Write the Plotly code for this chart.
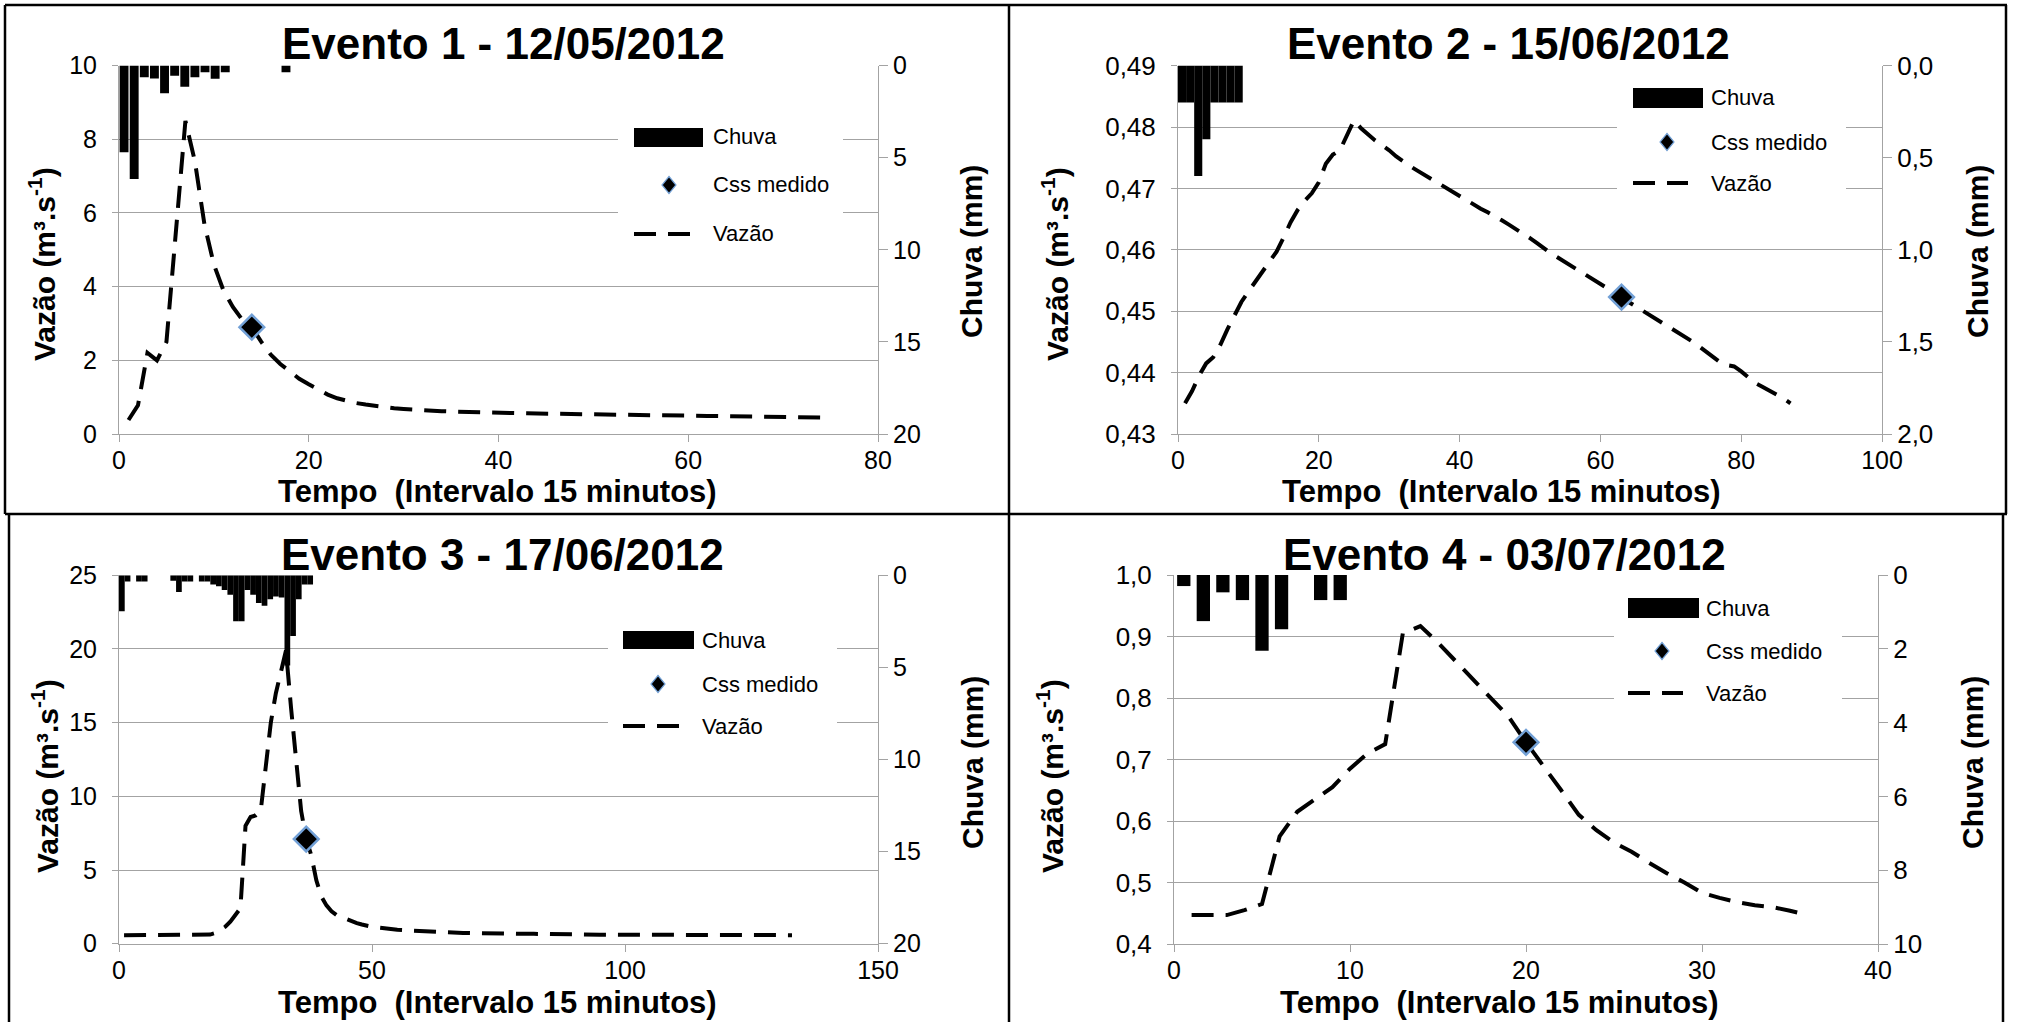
import plotly.graph_objects as go

# ---------------- data ----------------
titulos = ["Evento 1 - 12/05/2012", "Evento 2 - 15/06/2012",
           "Evento 3 - 17/06/2012", "Evento 4 - 03/07/2012"]

# Vazão (m3/s) per 15-minute interval
vazao_1 = [0.38, 0.78, 2.2, 2.0, 2.5, 5.5, 8.5, 7.4, 5.7, 4.6,
           3.9, 3.45, 3.1, 2.9, 2.5, 2.15, 1.9, 1.7, 1.5, 1.35,
           1.2, 1.07, 0.97, 0.9, 0.84, 0.8, 0.76, 0.73, 0.7, 0.68,
           0.66, 0.64, 0.63, 0.62, 0.61, 0.60, 0.59, 0.585, 0.58, 0.575,
           0.57, 0.565, 0.56, 0.555, 0.55, 0.545, 0.54, 0.535, 0.53, 0.53,
           0.525, 0.525, 0.52, 0.52, 0.515, 0.51, 0.51, 0.505, 0.50, 0.50,
           0.495, 0.49, 0.49, 0.485, 0.485, 0.48, 0.48, 0.475, 0.47, 0.465,
           0.46, 0.455, 0.45, 0.445, 0.44]
vazao_2 = [0.4350, 0.4370, 0.4395, 0.4415, 0.4425, 0.4445, 0.4470, 0.4492, 0.4515, 0.4532,
           0.4548, 0.4565, 0.4580, 0.4597, 0.4620, 0.4645, 0.4665, 0.4680, 0.4692, 0.4710,
           0.4740, 0.4755, 0.4762, 0.4785, 0.4811, 0.4798, 0.4787, 0.4778, 0.4770, 0.4762,
           0.4752, 0.4743, 0.4736, 0.4729, 0.4722, 0.4715, 0.4708, 0.4701, 0.4694, 0.4687,
           0.4680, 0.4674, 0.4667, 0.4661, 0.4655, 0.4648, 0.4641, 0.4634, 0.4627, 0.4619,
           0.4611, 0.4602, 0.4594, 0.4587, 0.4580, 0.4572, 0.4565, 0.4558, 0.4551, 0.4545,
           0.4538, 0.4531, 0.4523, 0.4515, 0.4508, 0.4500, 0.4493, 0.4486, 0.4479, 0.4472,
           0.4465, 0.4458, 0.4451, 0.4443, 0.4434, 0.4425, 0.4417, 0.4412, 0.4410, 0.4402,
           0.4392, 0.4383, 0.4377, 0.4371, 0.4365, 0.4358, 0.4350]
vazao_3 = [0.58, 0.58, 0.58, 0.58, 0.58, 0.58, 0.58, 0.58, 0.58, 0.58,
           0.58, 0.58, 0.58, 0.58, 0.58, 0.58, 0.58, 0.62, 0.72, 0.9,
           1.15, 1.5, 1.9, 2.4, 8.0, 8.6, 8.7, 9.0, 12.0, 15.0,
           17.0, 18.5, 19.9, 16.0, 12.5, 9.0, 7.1, 6.0, 4.3, 3.2,
           2.6, 2.2, 1.95, 1.8, 1.65, 1.5, 1.4, 1.3, 1.2, 1.15,
           1.1, 1.05, 1.0, 0.97, 0.94, 0.92, 0.9, 0.88, 0.86, 0.84,
           0.82, 0.80, 0.79, 0.77, 0.76, 0.75, 0.74, 0.73, 0.73, 0.72,
           0.72, 0.71, 0.71, 0.70, 0.70, 0.69, 0.69, 0.68, 0.68, 0.68,
           0.67, 0.67, 0.66, 0.66, 0.65, 0.65, 0.64, 0.64, 0.63, 0.63,
           0.63, 0.62, 0.62, 0.62, 0.61, 0.61, 0.61, 0.60, 0.60, 0.60,
           0.60, 0.59, 0.59, 0.59, 0.59, 0.59, 0.59, 0.59, 0.59, 0.59,
           0.59, 0.59, 0.59, 0.59, 0.59, 0.58, 0.58, 0.58, 0.58, 0.58,
           0.58, 0.58, 0.58, 0.58, 0.58, 0.58, 0.58, 0.58, 0.58, 0.58,
           0.58, 0.58, 0.58]
vazao_4 = [0.447, 0.447, 0.447, 0.455, 0.465, 0.575, 0.615, 0.635, 0.655, 0.685,
           0.710, 0.725, 0.905, 0.917, 0.890, 0.860, 0.830, 0.800, 0.770, 0.728,
           0.690, 0.650, 0.610, 0.585, 0.565, 0.550, 0.532, 0.515, 0.500, 0.483,
           0.475, 0.468, 0.463, 0.460, 0.454, 0.447]

# Chuva (mm) per 15-minute interval, from the start of each event
chuva_1 = [4.7, 6.15, 0.63, 0.7, 1.5, 0.55, 1.15, 0.63, 0.36, 0.72, 0.36,
           0, 0, 0, 0, 0, 0.36]
chuva_2 = [0.2, 0.2, 0.6, 0.4, 0.2, 0.2, 0.2, 0.2]
chuva_3 = [1.95, 0.33, 0, 0.33, 0.33, 0, 0, 0, 0, 0.3,
           0.9, 0.33, 0.33, 0, 0.33, 0.33, 0.5, 0.6, 0.8, 1.05,
           2.5, 2.5, 0.8, 1.05, 1.5, 1.65, 1.3, 1.15, 1.2, 4.9,
           3.3, 1.3, 0.5, 0.5]
chuva_4 = [0.3, 1.25, 0.47, 0.68, 2.05, 1.47, 0, 0.68, 0.68]

# Measured suspended sediment sample (interval, vazão)
css_t = [14, 63, 37, 20]
css_v = [2.9, 0.4523, 7.1, 0.728]

vazoes = [vazao_1, vazao_2, vazao_3, vazao_4]
chuvas = [chuva_1, chuva_2, chuva_3, chuva_4]

# ---------------- layout settings ----------------
W, H = 2018, 1022
FONT = "Liberation Sans, Arial, sans-serif"
GRID = "#a3a3a3"
BLUE = "#72a0d6"


def fx(p):
    return p / W


def fy(p):
    return 1 - p / H


# plot boxes in pixels: left, right, top, bottom
panels = [
    dict(box=(119, 878, 65.6, 434), xr=[0, 80], xd=20, yr=[0, 10], yd=2, yf="",
         cr=[20, 0], cd=5, cf="", bw=0.88, ts=25),
    dict(box=(1178, 1882, 65.6, 434), xr=[0, 100], xd=20, yr=[0.43, 0.49], yd=0.01, yf=".2f",
         cr=[2, 0], cd=0.5, cf=".1f", bw=1.0, ts=26),
    dict(box=(119, 878, 575.3, 943.7), xr=[0, 150], xd=50, yr=[0, 25], yd=5, yf="",
         cr=[20, 0], cd=5, cf="", bw=1.0, ts=25),
    dict(box=(1174, 1878, 575, 944), xr=[0, 40], xd=10, yr=[0.4, 1.0], yd=0.1, yf=".1f",
         cr=[10, 0], cd=2, cf="", bw=0.68, ts=26),
]

# text positions (pixels)
title_pos = [(503, 43), (1508, 43), (502, 554), (1504, 554)]
xtitle_pos = [(497, 491), (1501, 491), (497, 1002), (1499, 1002)]
ytitle_pos = [(42, 264), (1055, 264), (45, 776), (1050, 776)]
ctitle_pos = [(971, 252), (1977, 252), (972, 763), (1972, 763)]

# legend layout (pixels): white box, bar swatch, diamond centre, dash line, text x, text rows
legends = [
    dict(bg=(618, 98, 843, 255), sw=(634, 128, 703, 147), dm=(669, 185), dl=(634, 690, 234),
         tx=711, ty=(137, 185, 234)),
    dict(bg=(1617, 70, 1846, 212), sw=(1633, 88, 1703, 108), dm=(1667, 142), dl=(1633, 1688, 183),
         tx=1709, ty=(98, 142, 183)),
    dict(bg=(608, 608, 837, 752), sw=(623, 631, 694, 649), dm=(658, 684), dl=(623, 679, 726),
         tx=700, ty=(640, 684, 726)),
    dict(bg=(1614, 585, 1842, 725), sw=(1628, 598, 1699, 618), dm=(1662, 651), dl=(1628, 1683, 693),
         tx=1704, ty=(608, 651, 693)),
]

fig = go.Figure()
layout = dict(
    template="none",
    width=W, height=H, margin=dict(l=0, r=0, t=0, b=0, pad=0), autosize=False,
    paper_bgcolor="white", plot_bgcolor="white",
    showlegend=False, separators=",.",
    font=dict(family=FONT, color="black"),
    shapes=[], annotations=[],
)

for i, p in enumerate(panels):
    a = i + 1          # main axes (vazão)
    b = i + 5          # rain axes (chuva, category-spaced)
    sa = "" if a == 1 else str(a)
    l, r, t, btm = p["box"]
    n = len(vazoes[i])
    tickfont = dict(family=FONT, size=p["ts"], color="black")

    layout["xaxis" + sa] = dict(
        domain=[fx(l), fx(r)], range=p["xr"], dtick=p["xd"], anchor="y" + sa,
        automargin=False,
        showline=True, linecolor=GRID, linewidth=1, showgrid=False, zeroline=False,
        ticks="outside", ticklen=7, tickcolor=GRID,
        tickfont=dict(family=FONT, size=25, color="black"),
        ticklabelstandoff=-3,
    )
    layout["yaxis" + sa] = dict(
        domain=[fy(btm), fy(t)], range=p["yr"], dtick=p["yd"], tickformat=p["yf"],
        anchor="x" + sa, automargin=False, showline=True, linecolor=GRID, linewidth=1,
        showgrid=True, gridcolor=GRID, gridwidth=1, zeroline=False,
        ticks="outside", ticklen=6, tickcolor=GRID, tickfont=tickfont,
        ticklabelstandoff=10,
    )
    layout["xaxis" + str(b)] = dict(
        overlaying="x" + sa, range=[0.5, n + 0.5], visible=False, anchor="y" + str(b),
        automargin=False,
    )
    layout["yaxis" + str(b)] = dict(
        overlaying="y" + sa, side="right", anchor="x" + sa, range=p["cr"], dtick=p["cd"],
        tickformat=p["cf"], automargin=False, showline=True, linecolor=GRID, linewidth=1,
        showgrid=False, zeroline=False, ticks="outside", ticklen=9, tickcolor=GRID,
        tickfont=tickfont, ticklabelstandoff=0,
    )

    # Vazão dashed line
    fig.add_trace(go.Scatter(
        x=list(range(1, n + 1)), y=vazoes[i], mode="lines",
        line=dict(color="black", width=4, dash="22px,12px"),
        xaxis="x" + sa, yaxis="y" + sa, hoverinfo="skip",
    ))
    # Css medido marker
    fig.add_trace(go.Scatter(
        x=[css_t[i]], y=[css_v[i]], mode="markers",
        marker=dict(symbol="diamond", size=19, color="black", line=dict(color=BLUE, width=2.5)),
        xaxis="x" + sa, yaxis="y" + sa, hoverinfo="skip",
    ))
    # Chuva bars hanging from the top on the reversed right axis
    chuva = chuvas[i]
    fig.add_trace(go.Bar(
        x=list(range(1, len(chuva) + 1)), y=chuva, width=p["bw"],
        marker=dict(color="black", line=dict(width=0)),
        xaxis="x" + str(b), yaxis="y" + str(b), hoverinfo="skip",
    ))

    # titles
    tx, ty = title_pos[i]
    layout["annotations"].append(dict(
        x=fx(tx), y=fy(ty), xref="paper", yref="paper", xanchor="center", yanchor="middle",
        text="<b>" + titulos[i] + "</b>", showarrow=False,
        font=dict(family=FONT, size=44, color="black")))
    tx, ty = xtitle_pos[i]
    layout["annotations"].append(dict(
        x=fx(tx), y=fy(ty), xref="paper", yref="paper", xanchor="center", yanchor="middle",
        text="<b>Tempo  (Intervalo 15 minutos)</b>", showarrow=False,
        font=dict(family=FONT, size=31, color="black")))
    tx, ty = ytitle_pos[i]
    layout["annotations"].append(dict(
        x=fx(tx), y=fy(ty), xref="paper", yref="paper", xanchor="center", yanchor="middle",
        text="<b>Vazão (m³.s<sup>-1</sup>)</b>", showarrow=False, textangle=-90,
        font=dict(family=FONT, size=30, color="black")))
    tx, ty = ctitle_pos[i]
    layout["annotations"].append(dict(
        x=fx(tx), y=fy(ty), xref="paper", yref="paper", xanchor="center", yanchor="middle",
        text="<b>Chuva (mm)</b>", showarrow=False, textangle=-90,
        font=dict(family=FONT, size=30, color="black")))

    # legend
    lg = legends[i]
    x0, y0, x1, y1 = lg["bg"]
    layout["shapes"].append(dict(type="rect", xref="paper", yref="paper", layer="above",
                                 x0=fx(x0), x1=fx(x1), y0=fy(y0), y1=fy(y1),
                                 fillcolor="white", line=dict(width=0)))
    x0, y0, x1, y1 = lg["sw"]
    layout["shapes"].append(dict(type="rect", xref="paper", yref="paper", layer="above",
                                 x0=fx(x0), x1=fx(x1), y0=fy(y0), y1=fy(y1),
                                 fillcolor="black", line=dict(width=0)))
    cx, cy = lg["dm"]
    hw, hh = 7, 8.5
    path = "M{},{} L{},{} L{},{} L{},{} Z".format(
        fx(cx), fy(cy - hh), fx(cx + hw), fy(cy), fx(cx), fy(cy + hh), fx(cx - hw), fy(cy))
    layout["shapes"].append(dict(type="path", xref="paper", yref="paper", layer="above",
                                 path=path, fillcolor="black", line=dict(color=BLUE, width=1.2)))
    lx0, lx1, ly = lg["dl"]
    layout["shapes"].append(dict(type="line", xref="paper", yref="paper", layer="above",
                                 x0=fx(lx0), x1=fx(lx1), y0=fy(ly), y1=fy(ly),
                                 line=dict(color="black", width=4, dash="22px,12px")))
    for label, yy in zip(["Chuva", "Css medido", "Vazão"], lg["ty"]):
        layout["annotations"].append(dict(
            x=fx(lg["tx"]), y=fy(yy), xref="paper", yref="paper", xanchor="left", yanchor="middle",
            text=label, showarrow=False, font=dict(family=FONT, size=22, color="black")))

# panel frames
frame = [
    (5, 5, 2007, 5), (5, 5, 5, 514), (5, 514, 2007, 514), (2006, 5, 2006, 514),
    (9, 514, 9, 1022), (2003, 514, 2003, 1022), (1009, 5, 1009, 1022),
]
for x0, y0, x1, y1 in frame:
    layout["shapes"].append(dict(type="line", xref="paper", yref="paper", layer="above",
                                 x0=fx(x0), x1=fx(x1), y0=fy(y0), y1=fy(y1),
                                 line=dict(color="black", width=2.5)))

fig.update_layout(**layout)
fig.write_html("out.html")
